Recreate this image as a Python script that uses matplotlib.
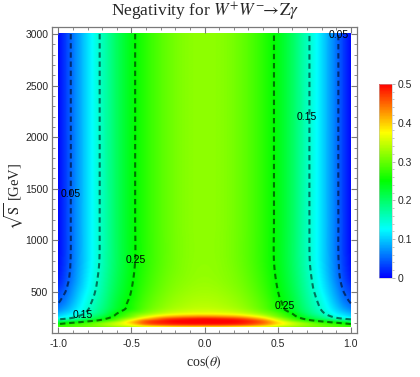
import numpy as np
import matplotlib
matplotlib.use("Agg")
import matplotlib.pyplot as plt
import matplotlib.tri as mtri
from matplotlib.colors import ListedColormap, hsv_to_rgb
from matplotlib.ticker import MultipleLocator, FormatStrFormatter

# ---------------- data ----------------
cos_theta = [-1.0, -0.95, -0.9, -0.8, -0.7, -0.6, -0.5, -0.4, -0.25, -0.1, 0.0,
             0.1, 0.25, 0.4, 0.5, 0.6, 0.7, 0.8, 0.9, 0.95, 1.0]
sqrt_s = [161, 175, 190, 205, 220, 240, 260, 290, 330, 390, 450, 520, 620, 800, 1200, 3000]

# negativity[i][j] at sqrt_s[i], cos_theta[j]
negativity = [
    [0.28, 0.285, 0.29, 0.30, 0.31, 0.325, 0.34, 0.36, 0.38, 0.39, 0.39, 0.39, 0.38, 0.36, 0.34, 0.325, 0.31, 0.30, 0.29, 0.285, 0.28],
    [0.27, 0.275, 0.285, 0.30, 0.32, 0.345, 0.37, 0.41, 0.44, 0.45, 0.45, 0.45, 0.44, 0.41, 0.37, 0.345, 0.32, 0.30, 0.285, 0.275, 0.27],
    [0.25, 0.26, 0.27, 0.29, 0.32, 0.35, 0.39, 0.45, 0.48, 0.49, 0.49, 0.49, 0.48, 0.44, 0.39, 0.35, 0.32, 0.29, 0.27, 0.26, 0.25],
    [0.22, 0.235, 0.245, 0.27, 0.30, 0.34, 0.40, 0.46, 0.49, 0.50, 0.50, 0.50, 0.49, 0.45, 0.39, 0.34, 0.30, 0.27, 0.245, 0.235, 0.22],
    [0.19, 0.20, 0.21, 0.24, 0.27, 0.31, 0.38, 0.45, 0.49, 0.50, 0.50, 0.50, 0.49, 0.44, 0.37, 0.31, 0.27, 0.24, 0.21, 0.20, 0.19],
    [0.14, 0.152, 0.165, 0.20, 0.24, 0.285, 0.34, 0.40, 0.46, 0.48, 0.485, 0.48, 0.46, 0.40, 0.34, 0.285, 0.24, 0.20, 0.165, 0.152, 0.14],
    [0.11, 0.125, 0.14, 0.18, 0.22, 0.265, 0.31, 0.36, 0.41, 0.43, 0.435, 0.43, 0.41, 0.36, 0.31, 0.265, 0.22, 0.18, 0.14, 0.125, 0.11],
    [0.09, 0.105, 0.12, 0.16, 0.20, 0.25, 0.29, 0.32, 0.355, 0.37, 0.372, 0.37, 0.355, 0.32, 0.29, 0.25, 0.20, 0.16, 0.12, 0.105, 0.09],
    [0.068, 0.085, 0.105, 0.148, 0.188, 0.232, 0.265, 0.298, 0.33, 0.345, 0.348, 0.345, 0.33, 0.298, 0.265, 0.232, 0.188, 0.148, 0.105, 0.085, 0.068],
    [0.05, 0.068, 0.092, 0.14, 0.18, 0.225, 0.26, 0.29, 0.32, 0.335, 0.338, 0.335, 0.32, 0.29, 0.26, 0.225, 0.18, 0.14, 0.092, 0.068, 0.05],
    [0.04, 0.058, 0.083, 0.133, 0.175, 0.22, 0.254, 0.285, 0.315, 0.33, 0.333, 0.33, 0.315, 0.285, 0.254, 0.22, 0.175, 0.133, 0.083, 0.058, 0.04],
    [0.03, 0.048, 0.075, 0.125, 0.17, 0.215, 0.25, 0.28, 0.31, 0.325, 0.328, 0.325, 0.31, 0.28, 0.25, 0.215, 0.17, 0.125, 0.075, 0.048, 0.03],
    [0.015, 0.038, 0.065, 0.118, 0.165, 0.21, 0.246, 0.275, 0.305, 0.32, 0.323, 0.32, 0.305, 0.275, 0.246, 0.21, 0.165, 0.118, 0.065, 0.038, 0.015],
    [0.007, 0.031, 0.059, 0.111, 0.159, 0.205, 0.242, 0.27, 0.30, 0.317, 0.32, 0.317, 0.30, 0.27, 0.242, 0.205, 0.159, 0.111, 0.059, 0.031, 0.007],
    [0.005, 0.03, 0.058, 0.11, 0.158, 0.205, 0.242, 0.27, 0.30, 0.317, 0.32, 0.317, 0.30, 0.27, 0.242, 0.205, 0.158, 0.11, 0.058, 0.03, 0.005],
    [0.005, 0.03, 0.058, 0.11, 0.158, 0.205, 0.242, 0.27, 0.30, 0.317, 0.32, 0.317, 0.30, 0.27, 0.242, 0.205, 0.158, 0.11, 0.058, 0.03, 0.005],
]

contour_levels = [0.05, 0.15, 0.25]
x_ticks = [-1.0, -0.5, 0.0, 0.5, 1.0]
y_ticks = [500, 1000, 1500, 2000, 2500, 3000]
cbar_ticks = [0.0, 0.1, 0.2, 0.3, 0.4, 0.5]

# ---------------- style ----------------
plt.rcParams['font.family'] = ['Liberation Sans', 'DejaVu Sans']
plt.rcParams['mathtext.fontset'] = 'stix'
FRAME = '#7a7a7a'
TXT = '#262626'

# Mathematica-like Hue colour function: Hue[2/3 (1 - t)]
t = np.linspace(0, 1, 256)
hsv = np.stack([2.0 / 3.0 * (1 - t), np.ones_like(t), np.ones_like(t)], axis=1)
cmap = ListedColormap(hsv_to_rgb(hsv))

# ---------------- smooth field from the table (library interpolation) ----------------
C, E = np.meshgrid(np.array(cos_theta), np.array(sqrt_s, dtype=float))
Z = np.array(negativity)
ny, nx = Z.shape
tris = []
for i in range(ny - 1):
    for j in range(nx - 1):
        a = i * nx + j
        tris.append([a, a + 1, a + nx])
        tris.append([a + 1, a + nx + 1, a + nx])
triang = mtri.Triangulation(C.ravel(), np.log(E.ravel()), triangles=np.array(tris))
interp = mtri.CubicTriInterpolator(triang, Z.ravel(), kind='geom')

cf = np.linspace(cos_theta[0], cos_theta[-1], 500)
ef = np.linspace(sqrt_s[0], sqrt_s[-1], 700)
CF, EF = np.meshgrid(cf, ef)
ZF = np.ma.filled(interp(CF, np.log(EF)), np.nan)

# ---------------- figure ----------------
fig = plt.figure(figsize=(4.2, 3.77), dpi=100)
ax = fig.add_axes([0.123, 0.1175, 0.726, 0.811])

im = ax.imshow(ZF, origin='lower', aspect='auto', cmap=cmap, vmin=0, vmax=0.5,
               extent=[cf[0], cf[-1], ef[0], ef[-1]], interpolation='bilinear')
cs = ax.contour(cf, ef, ZF, levels=contour_levels, colors='black', alpha=0.55,
                linewidths=1.5, linestyles=[(0, (2.6, 1.8))])

# contour labels (horizontal, like Mathematica)
label_spots = [(-0.915, 1450, 0), (0.92, 2990, 0), (0.70, 2196, 1),
               (-0.47, 810, 2), (-0.835, 277, 1), (0.545, 365, 2)]
for x, y, k in label_spots:
    ax.text(x, y, f"{contour_levels[k]:.2f}", fontsize=7.5, color='black',
            ha='center', va='center', zorder=5)

ax.set_xlim(-1.045, 1.039)
ax.set_ylim(106, 3068)
ax.set_xticks(x_ticks)
ax.set_yticks(y_ticks)
ax.xaxis.set_major_formatter(FormatStrFormatter('%.1f'))
ax.xaxis.set_minor_locator(MultipleLocator(0.1))
ax.yaxis.set_minor_locator(MultipleLocator(100))
ax.tick_params(which='both', direction='in', top=True, right=True, color=FRAME,
               labelsize=7.5, labelcolor=TXT)
ax.tick_params(which='major', length=4, width=0.8)
ax.tick_params(which='minor', length=2.2, width=0.6)
ax.tick_params(axis='x', pad=4.5)
ax.tick_params(axis='y', pad=2.5)
for sp in ax.spines.values():
    sp.set_color(FRAME)
    sp.set_linewidth(0.9)

fig.text(0.489, 0.969, r"Negativity for $W^{+}W^{-}\!\!\rightarrow\!\mathrm{Z}\gamma$",
         family='Liberation Serif', fontsize=12.5, ha='center', va='center', color=TXT)
fig.text(0.486, 0.040, r"cos$(\theta)$", family='Liberation Serif', fontsize=10,
         ha='center', va='center', color=TXT)
fig.text(0.033, 0.48, r"$\sqrt{\mathrm{S}}$ [GeV]", family='Liberation Serif', fontsize=10.5,
         ha='center', va='center', rotation=90, color=TXT)

# colour bar
cax = fig.add_axes([0.902, 0.2626, 0.031, 0.515])
cb = fig.colorbar(im, cax=cax, ticks=cbar_ticks)
cb.ax.yaxis.set_major_formatter(FormatStrFormatter('%g'))
cb.ax.yaxis.set_minor_locator(MultipleLocator(0.02))
cb.ax.tick_params(which='both', direction='out', color='#aaaaaa', labelsize=7.5,
                  labelcolor=TXT, pad=2)
cb.ax.tick_params(which='major', length=2.5, width=0.6)
cb.ax.tick_params(which='minor', length=1.5, width=0.5)
cb.outline.set_linewidth(0.4)
cb.outline.set_edgecolor('#bbbbbb')

fig.savefig("out.png", dpi=100)
